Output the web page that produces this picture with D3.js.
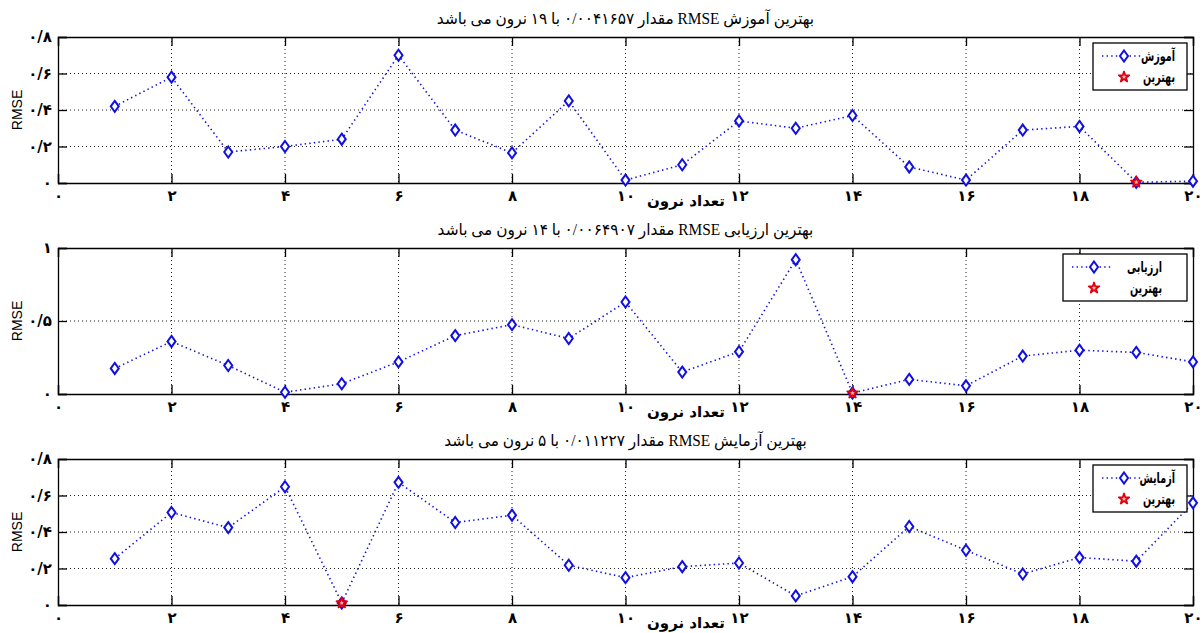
<!DOCTYPE html>
<html>
<head>
<meta charset="utf-8">
<script src="https://cdn.jsdelivr.net/npm/d3@7"></script>
<style>
  html, body { margin: 0; padding: 0; background: #fff; }
  svg { display: block; }
  .fa { font-family: "DejaVu Sans", sans-serif; }
  .ttl { font-family: "Liberation Serif", "DejaVu Sans", serif; }
</style>
</head>
<body>
<svg id="chart" width="1202" height="633"></svg>
<script>
// Number of hidden neurons tried
const neurons = [1, 2, 3, 4, 5, 6, 7, 8, 9, 10, 11, 12, 13, 14, 15, 16, 17, 18, 19, 20];

// RMSE per network size
const trainRMSE = [0.42, 0.58, 0.17, 0.20, 0.24, 0.70, 0.29, 0.165, 0.45, 0.016,
                   0.10, 0.34, 0.30, 0.37, 0.088, 0.016, 0.29, 0.31, 0.0041657, 0.010];
const validRMSE = [0.175, 0.36, 0.195, 0.012, 0.07, 0.22, 0.40, 0.475, 0.38, 0.63,
                   0.15, 0.29, 0.92, 0.0064907, 0.10, 0.056, 0.26, 0.30, 0.285, 0.22];
const testRMSE  = [0.254, 0.507, 0.424, 0.648, 0.011227, 0.672, 0.452, 0.492, 0.218, 0.15,
                   0.21, 0.23, 0.05, 0.155, 0.43, 0.30, 0.17, 0.26, 0.24, 0.56];

// Series names (Persian)
const seriesNames = ["آموزش", "ارزیابی", "آزمایش"];
const bestName = "بهترین";
const xLabelText = "تعداد نرون";
const yLabelText = "RMSE";

// Axis ticks
const xTicks = [0, 2, 4, 6, 8, 10, 12, 14, 16, 18, 20];
const yTicksA = [0, 0.2, 0.4, 0.6, 0.8];
const yTicksB = [0, 0.5, 1];

// Persian digit conversion, with "/" as decimal separator
const faDigits = "۰۱۲۳۴۵۶۷۸۹";
const toFa = s => String(s).replace(/\./g, "/").replace(/[0-9]/g, d => faDigits[+d]);

const panels = [
  { values: trainRMSE, name: seriesNames[0], yMax: 0.8, yTicks: yTicksA, top: 37,
    legend: { w: 94, textRight: 12 } },
  { values: validRMSE, name: seriesNames[1], yMax: 1.0, yTicks: yTicksB, top: 248,
    legend: { w: 124, textRight: 25 } },
  { values: testRMSE, name: seriesNames[2], yMax: 0.8, yTicks: yTicksA, top: 459,
    legend: { w: 94, textRight: 12 } }
];

const svg = d3.select("#chart");
const left = 58, right = 1193, plotH = 146;
const x = d3.scaleLinear().domain([0, 20]).range([left, right]);

const blue = "#1010e0";
const diamond = "M0,-5.5L4,0L0,5.5L-4,0Z";
const star = d3.symbol().type(d3.symbolStar).size(34);

function bestMarker(sel, cx, cy) {
  sel.append("path").attr("d", star())
    .attr("transform", `translate(${cx},${cy})`)
    .attr("fill", "#ffb0b0").attr("stroke", "#e00010").attr("stroke-width", 1.8)
    .attr("stroke-linejoin", "round");
}

// squeeze a text element horizontally to a fraction of its natural width
function condense(sel, k) {
  sel.each(function () {
    const w = this.getComputedTextLength();
    d3.select(this).attr("textLength", w * k).attr("lengthAdjust", "spacingAndGlyphs");
  });
}

panels.forEach(p => {
  const top = p.top, bottom = top + plotH;
  const y = d3.scaleLinear().domain([0, p.yMax]).range([bottom, top]);
  const g = svg.append("g");

  // dotted grid
  g.append("g").selectAll("line").data(xTicks.slice(1, -1)).join("line")
    .attr("x1", d => x(d)).attr("x2", d => x(d)).attr("y1", top).attr("y2", bottom)
    .attr("stroke", "#222").attr("stroke-width", 1).attr("stroke-dasharray", "1,3");
  g.append("g").selectAll("line").data(p.yTicks.slice(1, -1)).join("line")
    .attr("y1", d => y(d)).attr("y2", d => y(d)).attr("x1", left).attr("x2", right)
    .attr("stroke", "#222").attr("stroke-width", 1).attr("stroke-dasharray", "1,3");

  // axes with inward ticks on all four sides
  const axB = d3.axisBottom(x).tickValues(xTicks).tickSize(-9).tickPadding(7)
    .tickFormat(d => toFa(d));
  const axT = d3.axisTop(x).tickValues(xTicks).tickSize(-9).tickFormat("");
  const axL = d3.axisLeft(y).tickValues(p.yTicks).tickSize(-9).tickPadding(6)
    .tickFormat(d => toFa(d));
  const axR = d3.axisRight(y).tickValues(p.yTicks).tickSize(-9).tickFormat("");

  const gb = g.append("g").attr("transform", `translate(0,${bottom})`).call(axB);
  g.append("g").attr("transform", `translate(0,${top})`).call(axT);
  const gl = g.append("g").attr("transform", `translate(${left},0)`).call(axL);
  g.append("g").attr("transform", `translate(${right},0)`).call(axR);

  g.selectAll(".domain").attr("stroke", "#000").attr("stroke-width", 1.3);
  g.selectAll(".tick line").attr("stroke", "#000").attr("stroke-width", 1.3);
  gb.selectAll(".tick text").attr("class", "fa").attr("font-size", 15)
    .attr("font-weight", "bold").attr("fill", "#000");
  gl.selectAll(".tick text").attr("class", "fa").attr("font-size", 15)
    .attr("font-weight", "bold").attr("fill", "#000");

  // dotted series line
  const line = d3.line().x((d, i) => x(neurons[i])).y(d => y(d));
  g.append("path").datum(p.values).attr("d", line)
    .attr("fill", "none").attr("stroke", blue).attr("stroke-width", 1.6)
    .attr("stroke-dasharray", "1.4,3.2");

  // diamond markers
  g.append("g").selectAll("path").data(p.values).join("path")
    .attr("transform", (d, i) => `translate(${x(neurons[i])},${y(d)})`)
    .attr("d", diamond).attr("fill", "#fff").attr("stroke", blue).attr("stroke-width", 2);

  // best point
  const bi = d3.minIndex(p.values);
  const bestVal = p.values[bi], bestN = neurons[bi];
  bestMarker(g, x(bestN), y(bestVal));

  // title
  const title = `بهترین ${p.name} RMSE مقدار ${toFa(d3.format(".5")(bestVal))} با ${toFa(bestN)} نرون می باشد`;
  g.append("text").attr("class", "ttl")
    .attr("x", (left + right) / 2).attr("y", top - 13)
    .attr("text-anchor", "middle").attr("direction", "rtl")
    .attr("font-size", 16).attr("fill", "#000").text(title)
    .call(condense, 0.96);

  // axis labels
  g.append("text").attr("class", "fa")
    .attr("x", 686).attr("y", bottom + 23)
    .attr("text-anchor", "middle").attr("direction", "rtl")
    .attr("font-size", 15).attr("font-weight", "bold").text(xLabelText);
  g.append("text")
    .attr("transform", `translate(22,${(top + bottom) / 2}) rotate(-90)`)
    .attr("text-anchor", "middle")
    .attr("font-family", "Liberation Sans, Arial, sans-serif")
    .attr("font-size", 14).attr("fill", "#000").text(yLabelText);

  // legend
  const lw = p.legend.w, lx = right - 6 - lw, ly = top + 6, lh = 47;
  const lg = g.append("g");
  lg.append("rect").attr("x", lx).attr("y", ly).attr("width", lw).attr("height", lh)
    .attr("fill", "#fff").attr("stroke", "#000").attr("stroke-width", 1.3);
  const r1 = ly + 13, r2 = ly + 34;
  const cx = lx + 31;
  lg.append("line").attr("x1", cx - 22).attr("x2", cx + 18)
    .attr("y1", r1).attr("y2", r1)
    .attr("stroke", blue).attr("stroke-width", 1.6).attr("stroke-dasharray", "1.4,3.2");
  lg.append("path").attr("d", diamond)
    .attr("transform", `translate(${cx},${r1})`)
    .attr("fill", "#fff").attr("stroke", blue).attr("stroke-width", 2);
  bestMarker(lg, cx, r2);
  const tx = right - 6 - p.legend.textRight;
  [[p.name, r1], [bestName, r2]].forEach(([t, ry]) => {
    lg.append("text").attr("class", "fa").attr("x", tx).attr("y", ry + 5)
      .attr("text-anchor", "start").attr("direction", "rtl")
      .attr("font-size", 15).attr("font-weight", "bold").attr("fill", "#000").text(t)
      .call(condense, 0.64);
  });
});
</script>
</body>
</html>
